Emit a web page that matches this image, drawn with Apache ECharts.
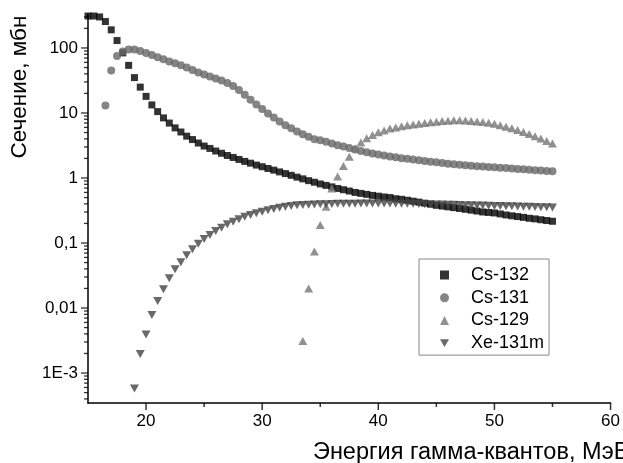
<!DOCTYPE html>
<html>
<head>
<meta charset="utf-8">
<script src="https://cdn.jsdelivr.net/npm/echarts@6.0.0/dist/echarts.min.js"></script>
<style>
  html, body { margin: 0; padding: 0; background: #fff; }
  #chart { width: 623px; height: 463px; }
</style>
</head>
<body>
<div id="chart"></div>
<script>
// energies, MeV (step 0.5)
const energy = [15, 15.5, 16, 16.5, 17, 17.5, 18, 18.5, 19, 19.5, 20, 20.5, 21, 21.5, 22, 22.5, 23, 23.5, 24, 24.5,
  25, 25.5, 26, 26.5, 27, 27.5, 28, 28.5, 29, 29.5, 30, 30.5, 31, 31.5, 32, 32.5, 33, 33.5, 34, 34.5,
  35, 35.5, 36, 36.5, 37, 37.5, 38, 38.5, 39, 39.5, 40, 40.5, 41, 41.5, 42, 42.5, 43, 43.5, 44, 44.5,
  45, 45.5, 46, 46.5, 47, 47.5, 48, 48.5, 49, 49.5, 50, 50.5, 51, 51.5, 52, 52.5, 53, 53.5, 54, 54.5, 55];

// Cs-132, from 15 MeV
const cs132 = [310, 310, 300, 255, 190, 130, 84, 54, 35, 25, 18, 13.3, 10.5, 8.4, 7.0, 5.9, 5.1, 4.4, 3.9, 3.45,
  3.1, 2.85, 2.6, 2.4, 2.22, 2.07, 1.93, 1.8, 1.69, 1.58, 1.49, 1.4, 1.32, 1.24, 1.17, 1.1, 1.03, 0.97, 0.91, 0.86,
  0.81, 0.77, 0.73, 0.69, 0.66, 0.63, 0.6, 0.58, 0.56, 0.54, 0.525, 0.51, 0.5, 0.48, 0.47, 0.455, 0.44, 0.425, 0.41, 0.395,
  0.38, 0.37, 0.36, 0.35, 0.34, 0.33, 0.32, 0.31, 0.3, 0.295, 0.29, 0.28, 0.27, 0.262, 0.255, 0.248, 0.24, 0.235, 0.228, 0.222, 0.216];

// Cs-131, from 16.5 MeV
const cs131Start = 16.5;
const cs131 = [13, 45, 75, 88, 95, 95, 90, 84, 78, 72, 67, 62, 58, 54, 50, 46, 42,
  39, 36.5, 34, 31.5, 29, 26, 22.5, 19, 16, 13.5, 11.5, 9.8, 8.5, 7.4, 6.5, 5.8, 5.2, 4.7, 4.3, 3.95,
  3.8, 3.6, 3.4, 3.2, 3.05, 2.9, 2.75, 2.6, 2.48, 2.38, 2.29, 2.21, 2.14, 2.08, 2.02, 1.97, 1.92, 1.87, 1.82, 1.78,
  1.74, 1.7, 1.66, 1.63, 1.6, 1.57, 1.54, 1.52, 1.5, 1.48, 1.46, 1.44, 1.42, 1.4, 1.38, 1.36, 1.34, 1.32, 1.3, 1.28, 1.27];

// Cs-129, from 33.5 MeV
const cs129Start = 33.5;
const cs129 = [0.0031, 0.020, 0.074,
  0.19, 0.36, 0.69, 1.05, 1.53, 2.13, 2.86, 3.5, 4.1, 4.6, 5.05, 5.4, 5.75, 6.0, 6.25, 6.45, 6.65, 6.85, 7.0, 7.2,
  7.35, 7.5, 7.6, 7.7, 7.7, 7.65, 7.55, 7.4, 7.25, 7.05, 6.8, 6.5, 6.15, 5.8, 5.45, 5.1, 4.75, 4.4, 4.05, 3.7, 3.4];

// Xe-131m, from 19 MeV
const xe131mStart = 19;
const xe131m = [0.00058, 0.00196, 0.0039, 0.0078, 0.0128, 0.0194, 0.0288, 0.0395, 0.0505, 0.065, 0.08, 0.097,
  0.115, 0.133, 0.153, 0.172, 0.194, 0.213, 0.232, 0.254, 0.27, 0.286, 0.303, 0.32, 0.333, 0.349, 0.36, 0.37, 0.38, 0.385, 0.389, 0.392,
  0.394, 0.396, 0.398, 0.4, 0.401, 0.402, 0.403, 0.404, 0.405, 0.405, 0.405, 0.405, 0.404, 0.403, 0.402, 0.401, 0.4, 0.398, 0.396, 0.394,
  0.392, 0.39, 0.388, 0.386, 0.384, 0.382, 0.38, 0.378, 0.376, 0.374, 0.372, 0.37, 0.368, 0.366, 0.364, 0.362, 0.36, 0.358, 0.356, 0.354, 0.352];

// axes
const xMin = 15, xMax = 60;
const xMajorTicks = [20, 30, 40, 50, 60];
const xMinorTicks = [25, 35, 45, 55];
const yMajorTicks = [0.001, 0.01, 0.1, 1, 10, 100];
const yTickLabels = ['1E-3', '0,01', '0,1', '1', '10', '100'];
const yDecades = [0.0001, 0.001, 0.01, 0.1, 1, 10, 100];
const yMinorMult = [2, 3, 4, 5, 6, 7, 8, 9];
const yMin = 3.46e-4, yMax = 333;

const yMinorTicks = [];
yDecades.forEach(function (d) {
  yMinorMult.forEach(function (m) {
    const v = +(d * m).toPrecision(3);
    if (v > yMin && v < yMax) yMinorTicks.push(v);
  });
});

function pairs(start, vals) {
  const i0 = energy.indexOf(start);
  return vals.map(function (v, i) { return [energy[i0 + i], v]; });
}

const font = 'Liberation Sans, Arial, sans-serif';
const chart = echarts.init(document.getElementById('chart'));

const axisLine = { show: true, lineStyle: { color: '#000', width: 1.5 } };

// tick marks drawn as thin rect symbols placed through the axis scales
function yTicks(values, len) {
  return {
    type: 'scatter', silent: true, clip: false, z: 10,
    symbol: 'rect', symbolSize: [len, 1.3], symbolOffset: [-len / 2, 0],
    itemStyle: { color: '#000' },
    data: values.map(function (v) { return [xMin, v]; })
  };
}
function xTicks(values, len) {
  return {
    type: 'scatter', silent: true, clip: false, z: 10,
    symbol: 'rect', symbolSize: [1.5, len], symbolOffset: [0, len / 2],
    itemStyle: { color: '#000' },
    data: values.map(function (v) { return [v, yMin]; })
  };
}

chart.setOption({
  animation: false,
  textStyle: { fontFamily: font },
  grid: { left: 88, right: 11, top: 14, bottom: 60 },
  legend: {
    orient: 'vertical',
    left: 419, top: 259,
    padding: [7, 5, 3, 21],
    itemWidth: 9, itemHeight: 9,
    itemGap: 4.7,
    borderColor: '#888', borderWidth: 1,
    textStyle: { fontSize: 18, color: '#000', fontFamily: font, lineHeight: 18, padding: [0, 0, 0, 17] },
    data: [
      { name: 'Cs-132' },
      { name: 'Cs-131' },
      { name: 'Cs-129' },
      { name: 'Xe-131m', icon: 'path://M0,0L10,0L5,8.7Z' }
    ]
  },
  xAxis: {
    type: 'value', min: xMin, max: xMax,
    axisLine: axisLine,
    axisTick: { show: false },
    axisLabel: { customValues: xMajorTicks, fontSize: 17, color: '#000', margin: 10, fontFamily: font },
    splitLine: { show: false }
  },
  yAxis: {
    type: 'log', logBase: 10, min: yMin, max: yMax,
    axisLine: axisLine,
    axisTick: { show: false },
    axisLabel: {
      customValues: yMajorTicks, fontSize: 17, color: '#000', margin: 10, fontFamily: font,
      formatter: function (v) {
        const i = yMajorTicks.findIndex(function (t) { return Math.abs(t - v) / t < 1e-6; });
        return i >= 0 ? yTickLabels[i] : '';
      }
    },
    splitLine: { show: false }
  },
  series: [{
    name: 'Cs-132', type: 'scatter', symbol: 'rect', symbolSize: 7,
    itemStyle: { color: '#000' },
    data: pairs(15, cs132)
  }, {
    name: 'Cs-131', type: 'scatter', symbol: 'circle', symbolSize: 8,
    itemStyle: { color: '#676767' },
    data: pairs(cs131Start, cs131)
  }, {
    name: 'Cs-129', type: 'scatter', symbol: 'triangle', symbolSize: [9, 8],
    itemStyle: { color: '#767676' },
    data: pairs(cs129Start, cs129)
  }, {
    name: 'Xe-131m', type: 'scatter', symbol: 'triangle', symbolSize: [9, 8], symbolRotate: 180,
    itemStyle: { color: '#444' },
    data: pairs(xe131mStart, xe131m)
  },
  yTicks(yMajorTicks, 7),
  yTicks(yMinorTicks, 4),
  xTicks(xMajorTicks, 7),
  xTicks(xMinorTicks, 4)],
  graphic: [{
    type: 'text', x: 20, y: 87, rotation: Math.PI / 2,
    style: { text: 'Сечение, мбн', font: '22.5px ' + font, fill: '#000', textAlign: 'center', textVerticalAlign: 'middle' }
  }, {
    type: 'text', x: 313, y: 453,
    style: { text: 'Энергия гамма-квантов, МэВ', font: '23.5px ' + font, fill: '#000', textAlign: 'left', textVerticalAlign: 'middle' }
  }]
});
</script>
</body>
</html>
